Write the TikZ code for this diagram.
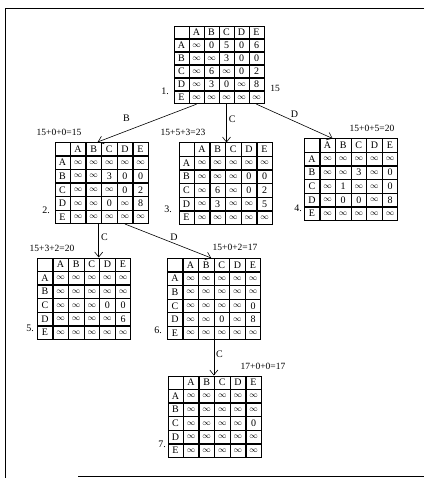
\documentclass[tikz,border=0pt]{standalone}
\usepackage{fontspec}
\setmainfont{Liberation Serif}
\usetikzlibrary{matrix,arrows.meta,positioning}
\newcommand{\ooo}{{\footnotesize$\infty$}}
\tikzset{
  costtab/.style={matrix of nodes, nodes in empty cells, inner sep=0pt,
    column sep=-0.4pt, row sep=-0.4pt,
    nodes={draw, line width=0.7pt, minimum width=15.3pt, minimum height=13.3pt,
      inner sep=0pt, anchor=center, font=\fontsize{10}{11}\selectfont}},
  cut/.style={draw, line width=0.6pt, -{Straight Barb[length=5pt,width=8pt]}},
  lbl/.style={font=\fontsize{10}{11}\selectfont, inner sep=1pt},
  cost/.style={font=\fontsize{9.5}{11}\selectfont, inner sep=0pt},
  num/.style={font=\fontsize{10}{11}\selectfont, inner sep=0pt}
}
\begin{document}
\begin{tikzpicture}[x=1pt, y=-1pt]
    \useasboundingbox (0,0) rectangle (424,478);
    % frame
    \draw[line width=0.7pt] (424,8) -- (5,8) -- (5,478);
    \draw[line width=0.7pt] (78,476) -- (424,476);
    % reduced matrices
    \matrix (m1) [costtab, nodes={minimum width=14.7pt, minimum height=12.7pt}] at (219,65) {
        & A & B & C & D & E \\
      A & \ooo & 0 & 5 & 0 & 6 \\
      B & \ooo & \ooo & 3 & 0 & 0 \\
      C & \ooo & 6 & \ooo & 0 & 2 \\
      D & \ooo & 3 & 0 & \ooo & 8 \\
      E & \ooo & \ooo & \ooo & \ooo & \ooo \\
    };
    \matrix (m2) [costtab] at (101.5,183) {
        & A & B & C & D & E \\
      A & \ooo & \ooo & \ooo & \ooo & \ooo \\
      B & \ooo & \ooo & 3 & 0 & 0 \\
      C & \ooo & \ooo & \ooo & 0 & 2 \\
      D & \ooo & \ooo & 0 & \ooo & 8 \\
      E & \ooo & \ooo & \ooo & \ooo & \ooo \\
    };
    \matrix (m3) [costtab] at (225.5,183.5) {
        & A & B & C & D & E \\
      A & \ooo & \ooo & \ooo & \ooo & \ooo \\
      B & \ooo & \ooo & \ooo & 0 & 0 \\
      C & \ooo & 6 & \ooo & 0 & 2 \\
      D & \ooo & 3 & \ooo & \ooo & 5 \\
      E & \ooo & \ooo & \ooo & \ooo & \ooo \\
    };
    \matrix (m4) [costtab] at (351,179.5) {
        & A & B & C & D & E \\
      A & \ooo & \ooo & \ooo & \ooo & \ooo \\
      B & \ooo & \ooo & 3 & \ooo & 0 \\
      C & \ooo & 1 & \ooo & \ooo & 0 \\
      D & \ooo & 0 & 0 & \ooo & 8 \\
      E & \ooo & \ooo & \ooo & \ooo & \ooo \\
    };
    \matrix (m5) [costtab] at (84,298.5) {
        & A & B & C & D & E \\
      A & \ooo & \ooo & \ooo & \ooo & \ooo \\
      B & \ooo & \ooo & \ooo & \ooo & \ooo \\
      C & \ooo & \ooo & \ooo & 0 & 0 \\
      D & \ooo & \ooo & \ooo & \ooo & 6 \\
      E & \ooo & \ooo & \ooo & \ooo & \ooo \\
    };
    \matrix (m6) [costtab] at (214,299) {
        & A & B & C & D & E \\
      A & \ooo & \ooo & \ooo & \ooo & \ooo \\
      B & \ooo & \ooo & \ooo & \ooo & \ooo \\
      C & \ooo & \ooo & \ooo & \ooo & 0 \\
      D & \ooo & \ooo & 0 & \ooo & 8 \\
      E & \ooo & \ooo & \ooo & \ooo & \ooo \\
    };
    \matrix (m7) [costtab] at (214.5,416.5) {
        & A & B & C & D & E \\
      A & \ooo & \ooo & \ooo & \ooo & \ooo \\
      B & \ooo & \ooo & \ooo & \ooo & \ooo \\
      C & \ooo & \ooo & \ooo & \ooo & 0 \\
      D & \ooo & \ooo & \ooo & \ooo & \ooo \\
      E & \ooo & \ooo & \ooo & \ooo & \ooo \\
    };
    % branches
    \draw[cut] (m1-6-2.south) -- ([xshift=-4pt]m2-1-3.north east)
        node[lbl, pos=0.71, above=8pt] (eB) {B};
    \draw[cut] (m1-6-4.south) -- (m1-6-4.south |- m3-1-4.north)
        node[lbl, pos=0.4, right=1pt] (eC) {C};
    \draw[cut] (m1-6-6.south) -- ([xshift=-3pt]m4-1-2.north east)
        node[lbl, midway, above=3pt] (eD) {D};
    \draw[cut] ([xshift=-3pt]m2-6-3.south east) -- ([xshift=-3pt]m2-6-3.south east |- m5-1-4.north)
        node[lbl, pos=0.4, right=1pt] (eBC) {C};
    \draw[cut] (m2-6-5.south) -- ([xshift=-3pt]m6-1-3.north east)
        node[lbl, pos=0.57, above=2pt] (eBD) {D};
    \draw[cut] (m6-6-4.south west) -- (m6-6-4.south west |- m7-1-4.north)
        node[lbl, pos=0.4, right=1pt] (eBDC) {C};
    % bounds
    \node[cost] (c1) at (275,88) {15};
    \node[cost] (c2) at (59,132) {15+0+0=15};
    \node[cost] (c3) at (183,132) {15+5+3=23};
    \node[cost] (c4) at (372,128) {15+0+5=20};
    \node[cost] (c5) at (52,248) {15+3+2=20};
    \node[cost] (c6) at (235,247) {15+0+2=17};
    \node[cost] (c7) at (263,366) {17+0+0=17};
    % numbers
    \node[num] (n1) at (165,91) {1.};
    \node[num] (n2) at (46,210) {2.};
    \node[num] (n3) at (168,209) {3.};
    \node[num] (n4) at (298,208) {4.};
    \node[num] (n5) at (30,328) {5.};
    \node[num] (n6) at (158,330) {6.};
    \node[num] (n7) at (162,444) {7.};
\end{tikzpicture}
\end{document}
